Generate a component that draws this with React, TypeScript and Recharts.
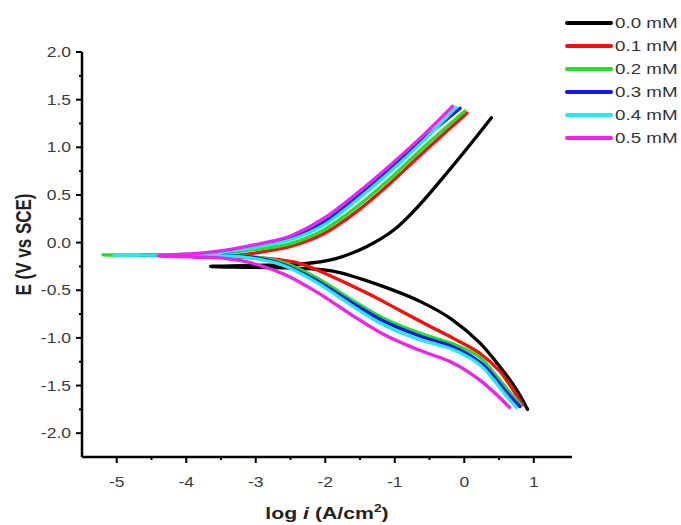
import { LineChart, Line, XAxis, YAxis, Legend, Label } from 'recharts'

// log i (A/cm2) and E (V vs SCE), cathodic end -> Ecorr -> anodic end
const LOGI_00 = [0.91, 0.75, 0.51, 0.22, -0.17, -0.6, -1.17, -1.89, -2.36, -3.08, -3.65, -3.08, -2.36, -1.86, -1.4, -1.0, -0.7, -0.25, 0.12, 0.39]
const E_00 = [-1.75, -1.54, -1.3, -1.05, -0.81, -0.63, -0.46, -0.3, -0.27, -0.26, -0.25, -0.24, -0.225, -0.17, -0.04, 0.14, 0.35, 0.73, 1.06, 1.31]

const LOGI_01 = [0.84, 0.65, 0.51, 0.22, -0.17, -0.49, -0.93, -1.4, -1.89, -2.36, -2.79, -3.22, -3.9, -3.22, -2.93, -2.5, -2.03, -1.54, -1.07, -0.6, 0.04]
const E_01 = [-1.7, -1.49, -1.35, -1.16, -1.0, -0.88, -0.71, -0.53, -0.36, -0.22, -0.17, -0.155, -0.15, -0.13, -0.1, -0.04, 0.09, 0.33, 0.62, 0.94, 1.36]

const LOGI_02 = [0.81, 0.62, 0.44, 0.22, -0.17, -0.64, -1.17, -1.64, -2.12, -2.6, -3.08, -4.08, -5.2, -4.08, -3.36, -2.93, -2.5, -2.03, -1.54, -1.07, -0.6, 0.01]
const E_02 = [-1.7, -1.54, -1.38, -1.2, -1.06, -0.95, -0.79, -0.59, -0.37, -0.21, -0.145, -0.135, -0.13, -0.125, -0.1, -0.065, -0.01, 0.13, 0.38, 0.67, 0.99, 1.38]

const LOGI_03 = [0.8, 0.61, 0.41, 0.22, -0.17, -0.64, -1.17, -1.64, -2.12, -2.6, -3.08, -3.79, -4.66, -3.79, -3.36, -2.93, -2.5, -2.03, -1.54, -1.07, -0.6, -0.06]
const E_03 = [-1.72, -1.57, -1.39, -1.25, -1.09, -0.98, -0.82, -0.62, -0.4, -0.23, -0.15, -0.135, -0.13, -0.125, -0.09, -0.03, 0.05, 0.21, 0.48, 0.77, 1.08, 1.41]

const LOGI_04 = [0.75, 0.58, 0.41, 0.22, -0.17, -0.64, -1.17, -1.64, -2.12, -2.6, -3.08, -3.79, -5.04, -3.79, -3.36, -2.93, -2.5, -2.03, -1.54, -1.07, -0.6, -0.12]
const E_04 = [-1.73, -1.585, -1.43, -1.28, -1.12, -1.02, -0.86, -0.65, -0.42, -0.24, -0.16, -0.135, -0.13, -0.125, -0.09, -0.04, 0.03, 0.18, 0.45, 0.74, 1.06, 1.42]

const LOGI_05 = [0.65, 0.47, 0.22, -0.17, -0.68, -1.17, -1.64, -2.12, -2.6, -3.08, -3.51, -4.41, -3.79, -3.36, -2.93, -2.5, -2.03, -1.54, -1.07, -0.6, -0.17]
const E_05 = [-1.73, -1.6, -1.44, -1.26, -1.12, -0.96, -0.75, -0.52, -0.33, -0.21, -0.16, -0.14, -0.11, -0.07, -0.01, 0.07, 0.25, 0.52, 0.81, 1.12, 1.43]

const SERIES_NAMES = ['0.0 mM', '0.1 mM', '0.2 mM', '0.3 mM', '0.4 mM', '0.5 mM']
const SERIES_COLORS = ['#000000', '#ff0a0a', '#22e022', '#1414f0', '#20eaf2', '#f020f0']
const SERIES_LOGI = [LOGI_00, LOGI_01, LOGI_02, LOGI_03, LOGI_04, LOGI_05]
const SERIES_E = [E_00, E_01, E_02, E_03, E_04, E_05]

const X_TICKS = [-5, -4.5, -4, -3.5, -3, -2.5, -2, -1.5, -1, -0.5, 0, 0.5, 1]
const Y_TICKS = [-2, -1.75, -1.5, -1.25, -1, -0.75, -0.5, -0.25, 0, 0.25, 0.5, 0.75, 1, 1.25, 1.5, 1.75, 2]

const FONT = "'Liberation Sans', Arial, sans-serif"
const SX = 1.25 // the reference text is stretched horizontally

const series = SERIES_NAMES.map((name, i) => ({
  name,
  color: SERIES_COLORS[i],
  points: SERIES_LOGI[i].map((x, j) => ({ x, y: SERIES_E[i][j] })),
}))

// centripetal catmull-rom through the points (screen space), works for curves that turn back in x
function catmullRom(context: any) {
  let pts: [number, number][] = []
  const dist = (a: [number, number], b: [number, number]) => Math.hypot(b[0] - a[0], b[1] - a[1])
  return {
    areaStart() {},
    areaEnd() {},
    lineStart() {
      pts = []
    },
    point(x: number, y: number) {
      pts.push([+x, +y])
    },
    lineEnd() {
      const n = pts.length
      if (!n) return
      context.moveTo(pts[0][0], pts[0][1])
      for (let i = 0; i < n - 1; i++) {
        const p0 = pts[Math.max(i - 1, 0)]
        const p1 = pts[i]
        const p2 = pts[i + 1]
        const p3 = pts[Math.min(i + 2, n - 1)]
        const d1 = Math.sqrt(dist(p0, p1))
        const d2 = Math.sqrt(dist(p1, p2))
        const d3 = Math.sqrt(dist(p2, p3))
        let c1: [number, number] = p1
        let c2: [number, number] = p2
        if (d1 > 1e-6) {
          const a = 2 * d1 * d1 + 3 * d1 * d2 + d2 * d2
          const m = 3 * d1 * (d1 + d2)
          c1 = [
            (p1[0] * a - p0[0] * d2 * d2 + p2[0] * d1 * d1) / m,
            (p1[1] * a - p0[1] * d2 * d2 + p2[1] * d1 * d1) / m,
          ]
        }
        if (d3 > 1e-6) {
          const b = 2 * d3 * d3 + 3 * d3 * d2 + d2 * d2
          const m = 3 * d3 * (d3 + d2)
          c2 = [
            (p2[0] * b + p1[0] * d3 * d3 - p3[0] * d2 * d2) / m,
            (p2[1] * b + p1[1] * d3 * d3 - p3[1] * d2 * d2) / m,
          ]
        }
        context.bezierCurveTo(c1[0], c1[1], c2[0], c2[1], p2[0], p2[1])
      }
    },
  }
}

function XTick({ x, y, payload }: { x: number; y: number; payload: { value: number } }) {
  const major = Number.isInteger(payload.value)
  return (
    <g>
      <line x1={x} x2={x} y1={y} y2={y + (major ? 6 : 3)} stroke="#000" strokeWidth={2} />
      {major && (
        <text
          transform={`translate(${x},${y + 30}) scale(${SX},1)`}
          textAnchor="middle"
          fontSize={14}
          fontFamily={FONT}
          fill="#3a3a3a"
        >
          {payload.value}
        </text>
      )}
    </g>
  )
}

function YTick({ x, y, payload }: { x: number; y: number; payload: { value: number } }) {
  const v = payload.value
  const major = Math.abs(v * 2 - Math.round(v * 2)) < 1e-6
  return (
    <g>
      <line x1={x - (major ? 6 : 3)} x2={x} y1={y} y2={y} stroke="#000" strokeWidth={2} />
      {major && (
        <text
          transform={`translate(${x - 11},${y + 5}) scale(${SX},1)`}
          textAnchor="end"
          fontSize={14}
          fontFamily={FONT}
          fill="#3a3a3a"
        >
          {v.toFixed(1)}
        </text>
      )}
    </g>
  )
}

function YTitle({ viewBox }: { viewBox?: { x: number; y: number; width: number; height: number } }) {
  if (!viewBox) return null
  const cx = viewBox.x + 31
  const cy = viewBox.y + viewBox.height / 2 - 10
  return (
    <text
      transform={`translate(${cx},${cy}) scale(${SX},1) rotate(-90)`}
      textAnchor="middle"
      fontSize={17}
      fontWeight="bold"
      fontFamily={FONT}
      fill="#222"
    >
      E (V vs SCE)
    </text>
  )
}

function XTitle({ viewBox }: { viewBox?: { x: number; y: number; width: number; height: number } }) {
  if (!viewBox) return null
  const cx = viewBox.x + viewBox.width / 2
  const cy = viewBox.y + 62
  return (
    <text
      transform={`translate(${cx},${cy}) scale(${SX},1)`}
      textAnchor="middle"
      fontSize={17}
      fontWeight="bold"
      fontFamily={FONT}
      fill="#222"
    >
      <tspan>log </tspan>
      <tspan fontStyle="italic">i</tspan>
      <tspan> (A/cm</tspan>
      <tspan fontSize={11} dy={-7}>2</tspan>
      <tspan dy={7}>)</tspan>
    </text>
  )
}

function LegendBox({ payload }: { payload?: { value: string; color: string }[] }) {
  return (
    <div style={{ fontFamily: FONT, fontSize: 15, color: '#333' }}>
      {(payload ?? []).map((p) => (
        <div key={p.value} style={{ display: 'flex', alignItems: 'center', height: 23 }}>
          <span style={{ width: 48, height: 4, background: p.color, borderRadius: 2, marginRight: 2 }} />
          <span
            style={{
              display: 'inline-block',
              transform: `scaleX(${SX})`,
              transformOrigin: 'left center',
              whiteSpace: 'nowrap',
            }}
          >
            {p.value}
          </span>
        </div>
      ))}
    </div>
  )
}

export default function App() {
  return (
    <div style={{ position: 'absolute', left: 0, top: 0, background: '#fff' }}>
      <LineChart width={681} height={525} margin={{ top: 52, right: 109, bottom: 18, left: 0 }}>
        <XAxis
          dataKey="x"
          type="number"
          domain={[-5.5, 1.55]}
          allowDataOverflow
          ticks={X_TICKS}
          interval={0}
          tick={XTick as any}
          tickLine={false}
          tickSize={0}
          tickMargin={0}
          height={50}
          axisLine={{ stroke: '#000', strokeWidth: 2.5 }}
        >
          <Label content={XTitle as any} />
        </XAxis>
        <YAxis
          type="number"
          domain={[-2.25, 2]}
          allowDataOverflow
          ticks={Y_TICKS}
          interval={0}
          tick={YTick as any}
          tickLine={false}
          tickSize={0}
          tickMargin={0}
          width={82}
          axisLine={{ stroke: '#000', strokeWidth: 2.5 }}
        >
          <Label content={YTitle as any} />
        </YAxis>
        <Legend
          layout="horizontal"
          verticalAlign="middle"
          align="center"
          content={LegendBox as any}
          wrapperStyle={{ left: 565, top: 11, width: 116 }}
        />
        {series.map((s) => (
          <Line
            key={s.name}
            name={s.name}
            data={s.points}
            dataKey="y"
            type={catmullRom as any}
            stroke={s.color}
            strokeWidth={3.3}
            strokeLinecap="round"
            dot={false}
            activeDot={false}
            isAnimationActive={false}
          />
        ))}
      </LineChart>
    </div>
  )
}
